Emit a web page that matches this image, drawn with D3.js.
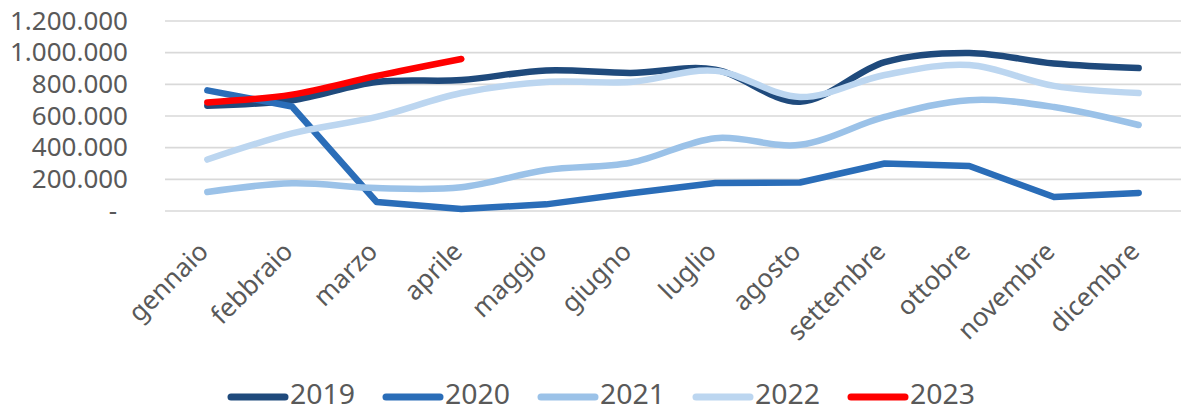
<!DOCTYPE html>
<html>
<head>
<meta charset="utf-8">
<script src="https://cdn.jsdelivr.net/npm/d3@7"></script>
<style>
  html, body { margin: 0; padding: 0; background: #fff; }
  svg { display: block; }
  text { font-family: "Noto Sans", "Open Sans", sans-serif; fill: #595959; }
</style>
</head>
<body>
<svg id="chart" width="1181" height="412"></svg>
<script>
// Months (categories)
const months = ["gennaio", "febbraio", "marzo", "aprile", "maggio", "giugno",
                "luglio", "agosto", "settembre", "ottobre", "novembre", "dicembre"];

// Monthly values per year
const y2019 = [665000, 700000, 815000, 827000, 888000, 872000, 893000, 690000, 940000, 998000, 932000, 903000];
const y2020 = [762000, 660000, 57000, 13000, 42000, 112000, 177000, 180000, 300000, 284000, 88000, 114000];
const y2021 = [120000, 175000, 145000, 150000, 259000, 305000, 460000, 418000, 594000, 700000, 657000, 543000];
const y2022 = [325000, 490000, 594000, 745000, 815000, 815000, 885000, 720000, 859000, 922000, 790000, 745000];
const y2023 = [686000, 735000, 853000, 960000];

// Y axis ticks
const yTicks = [0, 200000, 400000, 600000, 800000, 1000000, 1200000];

const seriesNames = ["2019", "2020", "2021", "2022", "2023"];
const seriesValues = [y2019, y2020, y2021, y2022, y2023];
const seriesColors = ["#1f4a7c", "#2a6db8", "#9bc2e8", "#bcd6f0", "#ff0000"];
const seriesSmooth = [true, false, true, true, true];

const svg = d3.select("#chart");
const plot = { left: 165, right: 1181, top: 21, bottom: 211 };

const x = d3.scalePoint()
  .domain(months)
  .range([plot.left, plot.right])
  .padding(0.5);

const y = d3.scaleLinear()
  .domain([0, 1200000])
  .range([plot.bottom, plot.top]);

const it = d3.formatLocale({ decimal: ",", thousands: ".", grouping: [3], currency: ["€", ""] });
const fmt = it.format(",.0f");

// Horizontal gridlines
svg.append("g")
  .selectAll("line")
  .data(yTicks)
  .join("line")
  .attr("x1", plot.left)
  .attr("x2", plot.right)
  .attr("y1", d => y(d))
  .attr("y2", d => y(d))
  .attr("stroke", "#d9d9d9")
  .attr("stroke-width", 1.6);

// Y axis labels
const yAxis = svg.append("g")
  .attr("transform", `translate(${128},0)`)
  .call(d3.axisLeft(y).tickValues(yTicks).tickSize(0).tickPadding(0)
    .tickFormat(d => d === 0 ? "-" : fmt(d)));
yAxis.select(".domain").remove();
yAxis.selectAll("text")
  .attr("fill", "#595959")
  .style("font-size", "26px")
  .style("font-family", '"Noto Sans", sans-serif')
  .attr("dx", d => d === 0 ? -11 : 0);

// X axis labels, rotated
const xAxis = svg.append("g")
  .attr("transform", `translate(0,${plot.bottom})`)
  .call(d3.axisBottom(x).tickSize(0).tickPadding(0));
xAxis.select(".domain").remove();
xAxis.selectAll("text")
  .attr("fill", "#595959")
  .style("font-size", "26px")
  .style("font-family", '"Noto Sans", sans-serif')
  .attr("text-anchor", "end")
  .attr("dy", 0)
  .attr("y", 0)
  .attr("transform", "translate(2,42) rotate(-45)");

// Series lines
const lineGroup = svg.append("g");
seriesValues.forEach((vals, i) => {
  const line = d3.line()
    .x((d, j) => x(months[j]))
    .y(d => y(d))
    .curve(seriesSmooth[i] ? d3.curveCardinal.tension(0) : d3.curveLinear);
  lineGroup.append("path")
    .datum(vals)
    .attr("d", line)
    .attr("fill", "none")
    .attr("stroke", seriesColors[i])
    .attr("stroke-width", 6.5)
    .attr("stroke-linecap", "round")
    .attr("stroke-linejoin", "round");
});

// Legend
const legendX = [228, 383, 538, 693, 848];
const legend = svg.append("g");
seriesNames.forEach((name, i) => {
  const lx = legendX[i];
  legend.append("line")
    .attr("x1", lx + 3).attr("x2", lx + 57)
    .attr("y1", 397).attr("y2", 397)
    .attr("stroke", seriesColors[i])
    .attr("stroke-width", 7)
    .attr("stroke-linecap", "round");
  legend.append("text")
    .attr("x", lx + 62)
    .attr("y", 404)
    .style("font-size", "27px")
    .attr("textLength", 65)
    .attr("lengthAdjust", "spacingAndGlyphs")
    .text(name);
});
</script>
</body>
</html>
